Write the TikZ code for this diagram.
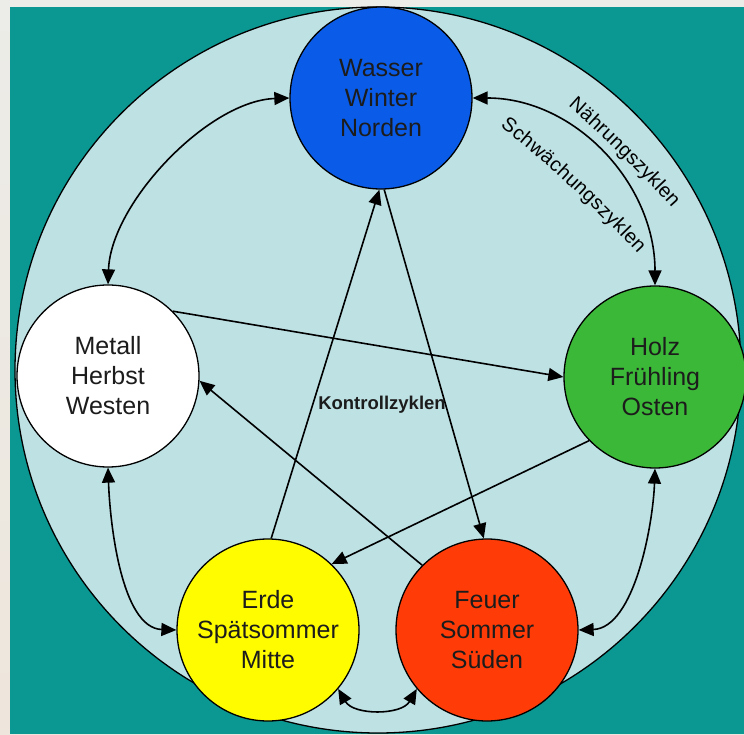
\documentclass[tikz,border=0pt]{standalone}
\usepackage{fontspec}
\setmainfont{Liberation Sans}
\usetikzlibrary{arrows.meta,decorations.text}
\definecolor{teal1}{RGB}{12,152,146}
\definecolor{lightbg}{RGB}{190,225,228}
\definecolor{wblue}{RGB}{10,92,232}
\definecolor{hgreen}{RGB}{60,184,56}
\definecolor{eyellow}{RGB}{255,252,0}
\definecolor{fred}{RGB}{255,60,8}
\definecolor{txt}{RGB}{28,28,28}
\definecolor{paper}{RGB}{236,236,232}
\begin{document}
\begin{tikzpicture}[x=1pt,y=1pt,
  elem/.style={circle, draw=black, line width=1.3pt, minimum size=182pt, inner sep=0pt,
    align=center, font=\fontsize{25}{30}\selectfont, text=txt},
  cyc/.style={line width=1.6pt, {Triangle[length=15pt,width=13pt]}-{Triangle[length=15pt,width=13pt]}},
  ctl/.style={line width=1.6pt, -{Triangle[length=15pt,width=13pt]}}]
\useasboundingbox (0,0) rectangle (744,734);
% page background
\shade[top color=paper, bottom color={rgb,255:red,238;green,230;blue,220}] (0,0) rectangle (744,734);
\fill[teal1] (10,0) rectangle (744,727);
\begin{scope}
  \clip (10,0) rectangle (744,727);
  \draw[fill=lightbg, line width=1.3pt] (378,364) circle (363);
\end{scope}
% elements
\node[elem, fill=wblue] (W) at (381,636) {Wasser\\Winter\\Norden};
\node[elem, fill=white] (M) at (108,358) {Metall\\Herbst\\Westen};
\node[elem, fill=hgreen] (H) at (655,357) {Holz\\Frühling\\Osten};
\node[elem, fill=eyellow] (E) at (268,104) {Erde\\Spätsommer\\Mitte};
\node[elem, fill=fred] (F) at (487,104) {Feuer\\Sommer\\Süden};
% nourishing / weakening cycle
\draw[cyc] (M.north) to[out=88,in=182,looseness=0.8] (W.west);
\draw[cyc] (W.east) to[out=0,in=90] (H.north);
\draw[cyc] (M.south) to[out=-88,in=178,looseness=0.8] (E.west);
\draw[cyc] (H.south) to[out=-92,in=2,looseness=0.8] (F.east);
\draw[cyc] (E.-40) to[out=-60,in=-120] (F.-140);
% control cycle
\draw[ctl] (M.45) -- (H.west);
\draw[ctl] (H.224) -- (E.46);
\draw[ctl] (E.88) -- (W.-91);
\draw[ctl] (W.-88) -- (F.92);
\draw[ctl] (F.135) -- (M.-3);
% labels
\node[font=\bfseries\fontsize{18.5}{20}\selectfont, text=txt] (K) at (382,329) {Kontrollzyklen};
\coordinate (n1) at (568,628);
\coordinate (n2) at (672,526);
\coordinate (s1) at (500,607);
\coordinate (s2) at (638,480);
\begin{scope}
\fontsize{20}{20}\selectfont
\color{txt}
\path[decorate, decoration={text along path, text align={fit to path},
  text={Nährungszyklen}}]
  (n1) .. controls (603,597) and (640,562) .. (n2);
\path[decorate, decoration={text along path, text align={fit to path},
  text={Schwächungszyklen}}]
  (s1) .. controls (540,578) and (604,517) .. (s2);
\end{scope}
\end{tikzpicture}
\end{document}
